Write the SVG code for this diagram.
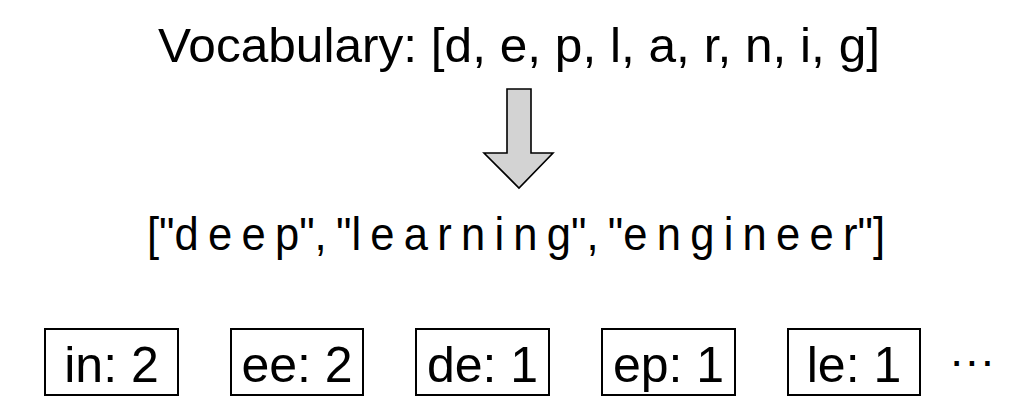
<svg xmlns="http://www.w3.org/2000/svg" width="1032" height="414" viewBox="0 0 1032 414">
<style>
text{font-family:"Liberation Sans",Arial,Helvetica,sans-serif;fill:#000}
.title{font-size:49px}
.words{font-size:46px;word-spacing:-3px}
.box rect{fill:#fff;stroke:#000;stroke-width:2}
.box text{font-size:50px;text-anchor:middle}
</style>
<rect width="1032" height="414" fill="#fff"/>
<g id="vocab"><text class="title" x="158" y="62" textLength="722" lengthAdjust="spacingAndGlyphs">Vocabulary: [d, e, p, l, a, r, n, i, g]</text></g>
<g id="connectors">
<path d="M507 89 H531 V153 H553 L519 188 L484 153 H507 Z" fill="#d3d3d3" stroke="#000" stroke-width="1.6" stroke-linejoin="miter"/>
</g>
<g id="words"><text class="words" x="147" y="250" textLength="738" lengthAdjust="spacingAndGlyphs">["d e e p", "l e a r n i n g", "e n g i n e e r"]</text></g>
<g id="pair-in" class="box"><rect x="45" y="329" width="133" height="66"/><text x="111.5" y="382">in: 2</text></g>
<g id="pair-ee" class="box"><rect x="231" y="329" width="132" height="66"/><text x="297" y="382">ee: 2</text></g>
<g id="pair-de" class="box"><rect x="416" y="329" width="133" height="66"/><text x="482.5" y="382">de: 1</text></g>
<g id="pair-ep" class="box"><rect x="602" y="329" width="133" height="66"/><text x="668.5" y="382">ep: 1</text></g>
<g id="pair-le" class="box"><rect x="788" y="329" width="132" height="66"/><text x="854" y="382">le: 1</text></g>
<g id="ellipsis"><text x="949" y="376" style="font-size:46px">···</text></g>
</svg>
